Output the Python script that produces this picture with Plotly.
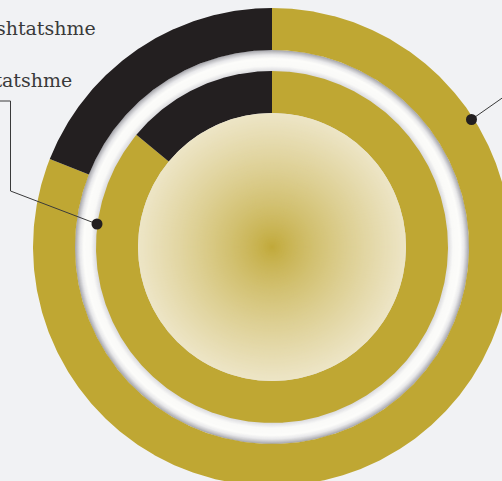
import numpy as np
import plotly.graph_objects as go

# ---- data -------------------------------------------------------------
segments = ["E përshtatshme", "E papërshtatshme"]
outer_values = [81, 19]          # outer ring, clockwise from 12 o'clock
inner_values = [86, 14]          # inner ring, clockwise from 12 o'clock
label_texts = ["E papërshtatshme", "E përshtatshme"]

# ---- styling / geometry (pixel units, origin at ring centre) ---------
W, H = 502, 481
CX, CY = 272, 247
BG = "#F1F2F4"
SEG_COLORS = ["#BFA733", "#231F20"]
R_OUTER = (197, 239)
R_TUBE = (176, 197)
R_INNER = (134, 176)
R_CORE = 134


def sector(r_in, r_out, a0, a1):
    n = max(int(abs(a1 - a0) / 0.4) + 2, 3)
    th = np.radians(np.linspace(a0, a1, n))
    xo, yo = r_out * np.sin(th), r_out * np.cos(th)
    xi, yi = r_in * np.sin(th[::-1]), r_in * np.cos(th[::-1])
    x = np.concatenate([xo, xi, xo[:1]])
    y = np.concatenate([yo, yi, yo[:1]])
    return x, y


def ring_traces(values, radii):
    total = float(sum(values))
    start = 0.0
    traces = []
    for name, v, c in zip(segments, values, SEG_COLORS):
        span = 360.0 * v / total
        x, y = sector(radii[0], radii[1], start, start + span)
        traces.append(go.Scatter(x=x, y=y, mode="lines", fill="toself",
                                 fillcolor=c, line=dict(width=0, color=c),
                                 name=name, hoverinfo="name", showlegend=False))
        start += span
    return traces


def mix(c0, c1, t):
    return "rgb(%d,%d,%d)" % tuple(round(a + (b - a) * t) for a, b in zip(c0, c1))


fig = go.Figure()
for tr in ring_traces(outer_values, R_OUTER):
    fig.add_trace(tr)
for tr in ring_traces(inner_values, R_INNER):
    fig.add_trace(tr)

shapes = []
# white tube between the rings: grey outer rim -> white -> pale inner rim
tube_stops = [(0.0, (168, 168, 174)), (0.22, (232, 232, 234)), (0.4, (252, 252, 250)),
              (0.75, (250, 250, 248)), (1.0, (218, 218, 222))]
for r in np.arange(R_TUBE[1], R_TUBE[0] - 0.01, -0.5):
    t = (R_TUBE[1] - r) / (R_TUBE[1] - R_TUBE[0])
    for (t0, c0), (t1, c1) in zip(tube_stops[:-1], tube_stops[1:]):
        if t0 <= t <= t1:
            col = mix(c0, c1, (t - t0) / (t1 - t0))
            break
    shapes.append(dict(type="circle", xref="x", yref="y", x0=-r, x1=r, y0=-r, y1=r,
                       fillcolor=col, line=dict(width=0), layer="below"))

# radial gradient core
core_edge = (237, 229, 198)
core_mid = (192, 168, 55)
for r in np.arange(R_CORE, 0, -1.0):
    t = r / R_CORE
    shapes.append(dict(type="circle", xref="x", yref="y", x0=-r, x1=r, y0=-r, y1=r,
                       fillcolor=mix(core_mid, core_edge, t ** 0.8), line=dict(width=0),
                       layer="above"))

# leader lines and dots
LINE_C = "#3a3a3a"
left_dot = (-175, 23)
right_dot = (199.5, 127.5)
fig.add_trace(go.Scatter(x=[-CX, -261.5, -261.5, left_dot[0]],
                         y=[146, 146, 56, left_dot[1]], mode="lines",
                         line=dict(color=LINE_C, width=1), hoverinfo="skip", showlegend=False))
fig.add_trace(go.Scatter(x=[right_dot[0], right_dot[0] + 60],
                         y=[right_dot[1], right_dot[1] + 42], mode="lines",
                         line=dict(color=LINE_C, width=1), hoverinfo="skip", showlegend=False))
fig.add_trace(go.Scatter(x=[left_dot[0], right_dot[0]], y=[left_dot[1], right_dot[1]],
                         mode="markers", marker=dict(size=11, color="#231F20"),
                         hoverinfo="skip", showlegend=False))

LABEL_FONT = dict(family="DejaVu Serif", size=19, color="#3a3a3a")
annotations = [
    dict(text=label_texts[0], x=98 - CX, y=CY - 28, xref="x", yref="y",
         xanchor="right", yanchor="middle", showarrow=False, font=LABEL_FONT),
    dict(text=label_texts[1], x=74 - CX, y=CY - 80, xref="x", yref="y",
         xanchor="right", yanchor="middle", showarrow=False, font=LABEL_FONT),
]

fig.update_layout(
    width=W, height=H, margin=dict(l=0, r=0, t=0, b=0),
    paper_bgcolor=BG, plot_bgcolor=BG, showlegend=False,
    shapes=shapes, annotations=annotations,
    xaxis=dict(range=[-CX, W - CX], visible=False, fixedrange=True),
    yaxis=dict(range=[-(H - CY), CY], visible=False, fixedrange=True),
)
fig.write_html("out.html")
